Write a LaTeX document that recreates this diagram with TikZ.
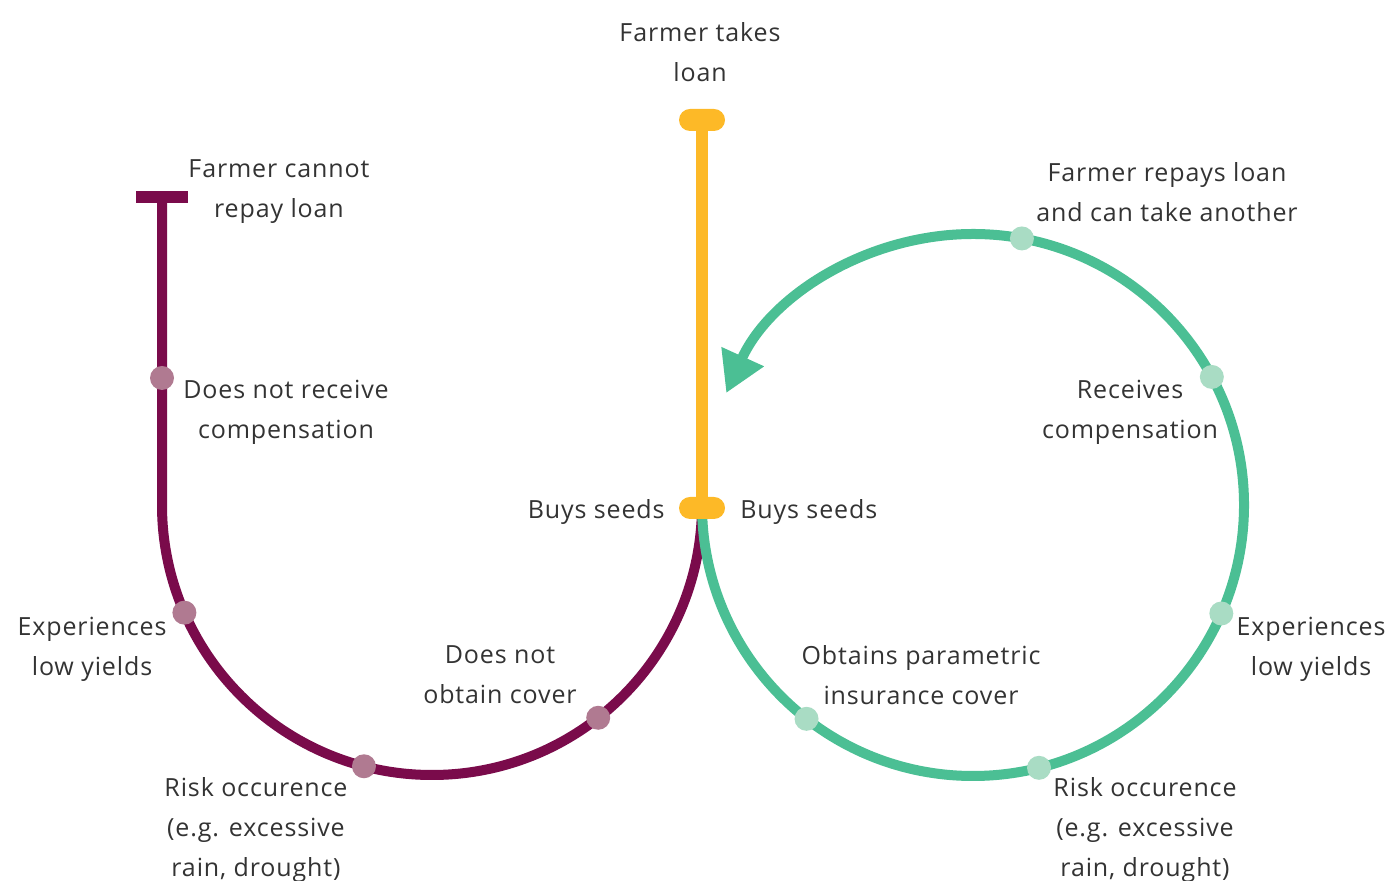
\documentclass[tikz,border=0pt]{standalone}
\usepackage{fontspec}
\setmainfont[LetterSpace=3.5]{Open Sans}
\usetikzlibrary{arrows.meta}

\definecolor{loanyellow}{HTML}{FDB927}
\definecolor{failpurple}{HTML}{7A0B4B}
\definecolor{covergreen}{HTML}{4BBF94}
\definecolor{dotgreen}{HTML}{A9DCC4}
\definecolor{dotpurple}{HTML}{B07A91}
\definecolor{textgrey}{HTML}{333333}

\tikzset{
  txt/.style={align=center, inner sep=0pt, text=textgrey,
    font=\fontsize{12.5}{20}\selectfont},
  gdot/.style={circle, fill=dotgreen, minimum size=12pt, inner sep=0pt},
  pdot/.style={circle, fill=dotpurple, minimum size=12pt, inner sep=0pt},
  loancap/.style={fill=loanyellow, minimum width=23pt, minimum height=11pt,
    inner sep=0pt, rounded corners=5.5pt},
  tbar/.style={fill=failpurple, minimum width=26pt, minimum height=6pt, inner sep=0pt},
  greenline/.style={draw=covergreen, line width=5pt},
  purpleline/.style={draw=failpurple, line width=5pt},
}

\begin{document}
\begin{tikzpicture}[x=0.5pt, y=0.5pt]
  \useasboundingbox (0,0) rectangle (1395,881);

  % Define nodes
  \coordinate (seeds) at (702,376);
  \coordinate (gc) at (973,376);
  \coordinate (pc) at (432,376);
  \coordinate (bend) at (162,376);
  \node[tbar] (cannotT) at (162,684) {};

  % Connect the nodes
  \draw[purpleline] (cannotT.center) -- (bend) arc[start angle=180, end angle=360, radius=270];
  \draw[greenline, -{Triangle[length=20pt,width=22pt]}]
    (seeds) arc[start angle=180, end angle=515.6, radius=271];

  \node[loancap] (takescap) at (702,761) {};
  \node[loancap] (seedscap) at (702,373) {};
  \draw[loanyellow, line width=6pt] (takescap) -- (seedscap);

  % Steps along the loops
  \node[pdot] (p1) at (162,503) {};
  \node[pdot] (p2) at ([shift={(203.5:270)}]pc) {};
  \node[pdot] (p3) at ([shift={(255.4:270)}]pc) {};
  \node[pdot] (p4) at ([shift={(308:270)}]pc) {};
  \node[gdot] (g1) at ([shift={(232.1:271)}]gc) {};
  \node[gdot] (g2) at ([shift={(-75.9:271)}]gc) {};
  \node[gdot] (g3) at ([shift={(-23.6:271)}]gc) {};
  \node[gdot] (g4) at ([shift={(28.2:271)}]gc) {};
  \node[gdot] (g5) at ([shift={(79.6:271)}]gc) {};

  % Labels
  \node[txt] (takes) at (700,829) {Farmer takes\\loan};
  \node[txt] (cannot) at (279,689) {Farmer cannot\\repay loan};
  \node[txt] (repays) at (1167,689) {Farmer repays loan\\and can take another};
  \node[txt] (noreceive) at (286,469) {Does not receive\\compensation};
  \node[txt] (receives) at (1130,469) {Receives\\compensation};
  \node[txt, anchor=east] (seedsL) at (665,369) {Buys seeds};
  \node[txt, anchor=west] (seedsR) at (740,369) {Buys seeds};
  \node[txt] (lowL) at (92,232) {Experiences\\low yields};
  \node[txt] (lowR) at (1311,232) {Experiences\\low yields};
  \node[txt] (nocover) at (500,206) {Does not\\obtain cover};
  \node[txt] (obtains) at (921,206) {Obtains parametric\\insurance cover};
  \node[txt] (riskL) at (256,51) {Risk occurence\\(e.g. excessive\\rain, drought)};
  \node[txt] (riskR) at (1145,51) {Risk occurence\\(e.g. excessive\\rain, drought)};
\end{tikzpicture}
\end{document}
